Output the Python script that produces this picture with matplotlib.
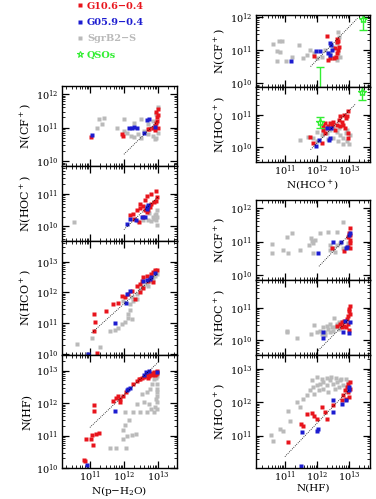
import matplotlib
matplotlib.use("Agg")
import matplotlib.pyplot as plt
from matplotlib.lines import Line2D
from matplotlib.ticker import LogLocator
import numpy as np

plt.rcParams["font.family"] = ["DejaVu Serif"]
plt.rcParams["mathtext.fontset"] = "dejavuserif"

RED = "#e8141c"
BLUE = "#1c1cd0"
GRAY = "#bababa"
GREEN = "#33ee33"

# All values are log10 column densities: (x, y).
# --- left column: versus N(p-H2O)
H2O_CF_RED = [(11.02, 10.73), (11.95, 10.82), (11.97, 10.76), (12.70, 10.95), (12.85, 10.98),
              (12.90, 11.05), (12.95, 11.12), (12.97, 11.20), (12.98, 11.30), (13.00, 11.38),
              (12.95, 11.45), (13.00, 11.55), (12.90, 10.92), (12.75, 10.97), (13.00, 11.00)]
H2O_CF_BLUE = [(11.07, 10.77), (12.15, 10.98), (12.23, 11.00), (12.30, 11.01), (12.37, 11.00),
               (12.60, 10.85), (12.67, 11.23), (12.73, 11.25), (12.92, 11.02)]
H2O_CF_GRAY = [(11.20, 11.00), (11.28, 11.25), (11.40, 11.27), (11.35, 11.10), (11.80, 11.00),
               (12.00, 11.25), (12.30, 11.12), (12.50, 11.25), (12.10, 10.85), (12.20, 10.75),
               (12.30, 10.72), (12.50, 10.70), (12.70, 10.80), (12.85, 10.75), (12.95, 10.70),
               (13.00, 10.85), (13.00, 11.60), (12.95, 11.40), (12.70, 11.10), (12.80, 11.00),
               (12.60, 10.90), (12.40, 10.80), (12.90, 10.65), (12.00, 10.90), (12.85, 11.20)]

H2O_HOC_RED = [(12.27, 10.39), (12.39, 10.51), (12.47, 10.57), (12.55, 10.61), (12.62, 10.49),
               (12.67, 10.44), (12.72, 10.51), (12.76, 10.59), (12.81, 10.69), (12.88, 10.74),
               (12.94, 10.79), (12.96, 10.89), (12.62, 10.80), (12.69, 10.92), (12.81, 10.98),
               (12.94, 11.08), (12.47, 10.69), (12.29, 10.23), (12.45, 10.13), (12.57, 10.29),
               (12.18, 10.34)]
H2O_HOC_BLUE = [(12.10, 10.08), (12.18, 10.23), (12.35, 10.18), (12.52, 10.29), (12.62, 10.30),
                (12.69, 10.59), (12.72, 10.64), (12.67, 10.54)]
H2O_HOC_GRAY = [(10.54, 10.13), (12.94, 10.18), (12.96, 10.29), (12.94, 10.39), (12.96, 10.49),
                (12.88, 10.23), (12.81, 10.16), (12.71, 10.18), (12.57, 10.18), (12.42, 10.16),
                (12.91, 10.34), (12.98, 10.05), (12.85, 10.30), (12.75, 10.40)]

H2O_HCO_RED = [(11.12, 11.31), (11.15, 11.05), (11.12, 10.74), (11.20, 10.03), (11.47, 11.40),
               (11.69, 11.62), (11.83, 11.67), (11.93, 11.89), (12.13, 11.95), (12.23, 12.05),
               (12.32, 11.78), (12.37, 12.22), (12.47, 12.27), (12.52, 12.38), (12.57, 12.49),
               (12.67, 12.55), (12.72, 12.38), (12.76, 12.44), (12.81, 12.60), (12.86, 12.66),
               (12.91, 12.73), (12.96, 12.73), (12.86, 12.33), (12.57, 12.16), (12.47, 12.00),
               (12.03, 11.86)]
H2O_HCO_BLUE = [(10.95, 9.99), (11.74, 11.02), (12.06, 11.67), (12.10, 11.95), (12.18, 12.05),
                (12.57, 12.38), (12.67, 12.40), (12.76, 12.44), (12.81, 12.49), (12.91, 12.62)]
H2O_HCO_GRAY = [(10.61, 10.33), (10.92, 10.00), (11.05, 10.50), (11.29, 10.22), (11.59, 10.74),
                (11.74, 10.77), (11.83, 10.85), (11.93, 10.98), (12.03, 11.05), (12.13, 11.16),
                (12.23, 11.13), (12.13, 11.29), (12.18, 11.42), (11.98, 11.73), (12.18, 11.62),
                (12.27, 11.73), (12.37, 11.95), (12.47, 12.11), (12.57, 12.22), (12.67, 12.27),
                (12.76, 12.38), (12.86, 12.44), (12.91, 12.55), (12.96, 12.60), (12.81, 12.49),
                (12.72, 12.22), (12.91, 12.71), (12.23, 11.84), (12.37, 11.78)]

H2O_HF_RED = [(10.86, 10.21), (10.83, 10.24), (10.90, 10.88), (11.03, 10.88), (11.06, 11.01),
              (11.08, 10.71), (11.18, 11.05), (11.28, 11.08), (11.11, 11.93), (11.13, 11.75),
              (11.68, 12.05), (11.78, 12.15), (11.83, 12.23), (11.88, 12.13), (11.98, 12.21),
              (12.06, 12.33), (11.88, 12.03), (12.28, 12.58), (12.38, 12.68), (12.48, 12.75),
              (12.53, 12.78), (12.63, 12.83), (12.68, 12.88), (12.73, 12.83), (12.78, 12.91),
              (12.83, 12.93), (12.88, 12.95), (12.93, 12.91), (12.98, 12.93), (12.98, 12.98),
              (12.83, 12.85), (12.58, 12.81), (12.43, 12.73), (12.70, 12.78), (12.90, 12.85)]
H2O_HF_BLUE = [(10.91, 10.08), (11.75, 11.75), (12.08, 12.41), (12.13, 12.43), (12.18, 12.45),
               (12.58, 12.85), (12.66, 12.95), (12.73, 12.98), (12.96, 12.95)]
H2O_HF_GRAY = [(11.58, 10.63), (11.78, 10.63), (12.06, 10.61), (11.98, 11.18), (12.08, 10.98),
               (12.23, 11.01), (12.36, 11.05), (12.16, 11.48), (12.28, 11.73), (12.38, 11.98),
               (12.03, 11.73), (12.53, 12.28), (12.68, 12.33), (12.78, 12.43), (12.83, 12.58),
               (12.88, 12.73), (12.93, 12.78), (12.96, 12.33), (12.98, 12.03), (12.90, 11.88),
               (12.80, 11.83), (12.98, 12.58), (12.98, 12.43), (12.98, 12.23), (12.98, 11.83),
               (12.93, 12.13), (12.73, 11.98), (12.58, 12.03), (12.48, 11.73), (12.68, 11.73),
               (12.88, 11.73), (11.98, 10.88), (12.03, 11.33), (12.98, 12.83), (12.93, 12.93)]

# --- right column, top: versus N(HCO+)
HCO_CF_RED = [(11.91, 10.82), (12.32, 11.42), (12.35, 10.70), (12.41, 10.75), (12.56, 11.05),
              (12.61, 11.25), (12.63, 11.32), (12.66, 11.28), (12.61, 10.90), (12.66, 11.00),
              (12.69, 11.10), (12.59, 10.79), (12.53, 10.75)]
HCO_CF_BLUE = [(11.19, 10.67), (11.97, 10.98), (12.09, 10.98), (12.41, 11.22), (12.43, 11.15),
               (12.35, 10.90), (12.41, 10.85), (12.46, 11.00)]
HCO_CF_GRAY = [(10.64, 11.18), (10.82, 11.28), (10.90, 11.28), (10.76, 10.98), (10.86, 10.93),
               (10.74, 10.68), (11.03, 10.67), (11.21, 10.80), (11.45, 11.15), (11.57, 10.75),
               (11.68, 10.85), (11.78, 11.00), (11.91, 10.90), (11.99, 10.75), (12.15, 10.80),
               (12.25, 11.00), (12.41, 10.90), (12.51, 11.10), (12.61, 11.20), (12.64, 11.56),
               (12.67, 11.40), (12.56, 10.80), (12.61, 10.70), (12.71, 10.80), (12.66, 10.90),
               (12.46, 10.75)]
# QSOs: (x, y, y_low, y_high)
HCO_CF_QSO = [(12.09, 9.30, 9.30, 10.49), (13.43, 11.93, 11.60, 12.09)]

HCO_HOC_RED = [(11.78, 10.33), (11.89, 10.12), (12.15, 10.12), (12.20, 10.54), (12.25, 10.44),
               (12.30, 10.59), (12.35, 10.64), (12.46, 10.69), (12.51, 10.79), (12.56, 10.54),
               (12.61, 10.69), (12.67, 10.85), (12.72, 10.95), (12.77, 10.79), (12.82, 10.69),
               (12.88, 10.59), (12.93, 10.95), (12.98, 11.10), (12.90, 10.90), (12.84, 11.00),
               (12.95, 10.43), (12.98, 10.28), (12.25, 10.74), (12.41, 10.74), (12.20, 10.64),
               (12.72, 10.64)]
HCO_HOC_BLUE = [(11.96, 10.05), (12.07, 10.23), (12.30, 10.59), (12.41, 10.28), (12.38, 10.23),
                (12.42, 10.59)]
HCO_HOC_GRAY = [(11.47, 10.23), (11.73, 10.33), (11.89, 10.28), (11.99, 10.18), (12.15, 10.38),
                (12.20, 10.48), (12.30, 10.43), (12.41, 10.54), (12.51, 10.59), (12.61, 10.48),
                (12.72, 10.38), (12.82, 10.28), (12.93, 10.18), (13.03, 10.38), (12.93, 10.54),
                (11.99, 10.48), (12.50, 10.30), (12.65, 10.20), (12.80, 10.10), (12.90, 10.45),
                (12.70, 10.60), (12.35, 10.25), (13.00, 10.10)]
HCO_HOC_QSO = [(12.09, 10.79, 10.58, 10.94), (13.40, 11.70, 11.45, 12.00)]

# --- right column, bottom: versus N(HF)
HF_CF_RED = [(12.46, 10.80), (12.84, 10.72), (12.95, 10.85), (13.03, 11.40), (13.01, 11.25),
             (13.03, 11.05), (13.03, 10.95), (13.03, 10.82), (12.98, 11.12), (13.03, 11.18)]
HF_CF_BLUE = [(12.02, 10.65), (12.49, 10.98), (12.74, 11.00), (12.93, 10.85), (13.03, 11.25),
              (13.01, 11.18), (12.91, 10.81)]
HF_CF_GRAY = [(10.61, 10.92), (10.61, 10.65), (10.95, 10.75), (11.07, 11.12), (11.21, 11.25),
              (11.10, 10.65), (11.47, 10.75), (11.80, 11.10), (11.83, 11.02), (11.89, 10.95),
              (11.94, 11.05), (11.86, 10.65), (12.09, 11.25), (12.35, 11.28), (12.61, 11.28),
              (12.82, 11.57), (12.41, 10.90), (12.51, 10.80), (12.61, 10.90), (12.72, 10.95),
              (12.39, 10.75), (12.56, 10.70), (12.82, 10.80), (12.93, 10.85), (12.98, 10.95),
              (11.75, 10.90)]

HF_HOC_RED = [(12.61, 10.45), (12.72, 10.50), (12.77, 10.55), (12.84, 10.60), (12.93, 10.65),
              (12.98, 10.75), (13.01, 10.90), (13.03, 11.05), (13.01, 10.95), (13.03, 10.80),
              (12.95, 10.50), (12.91, 10.40), (13.01, 10.32), (12.84, 10.45), (12.77, 10.40)]
HF_HOC_BLUE = [(12.20, 10.25), (12.20, 10.08), (12.82, 10.25), (13.01, 10.22), (13.03, 10.55),
               (12.88, 10.60)]
HF_HOC_GRAY = [(11.05, 10.25), (11.07, 10.28), (11.39, 10.08), (11.80, 10.20), (11.91, 10.47),
               (12.53, 10.70), (12.09, 10.30), (12.20, 10.40), (12.25, 10.25), (12.30, 10.45),
               (12.35, 10.35), (12.41, 10.50), (12.46, 10.40), (12.51, 10.30), (12.56, 10.40),
               (12.61, 10.50), (12.67, 10.55), (12.72, 10.45), (12.77, 10.55), (12.67, 10.35),
               (12.41, 10.25), (12.25, 10.15), (12.15, 10.20), (12.00, 10.25)]

HF_HCO_RED = [(11.10, 10.80), (11.49, 11.35), (11.57, 11.30), (11.70, 11.65), (11.84, 11.67),
              (11.91, 11.60), (11.99, 11.50), (12.15, 11.85), (12.25, 11.70), (12.30, 11.50),
              (12.51, 11.90), (12.77, 12.05), (12.82, 12.20), (12.88, 12.35), (12.93, 12.45),
              (12.98, 12.30), (13.01, 12.15), (13.03, 12.40), (12.95, 12.55), (13.03, 12.60),
              (12.90, 12.10)]
HF_HCO_BLUE = [(11.52, 11.10), (11.99, 11.15), (12.04, 11.20), (12.49, 12.07), (12.49, 11.70),
               (12.77, 11.95), (12.91, 12.05), (13.01, 12.35), (13.01, 12.45), (11.50, 10.08)]
HF_HCO_GRAY = [(10.58, 11.03), (10.64, 10.85), (10.86, 11.20), (10.95, 11.15), (11.10, 11.73),
               (11.16, 11.45), (11.39, 12.00), (11.47, 11.85), (11.57, 12.10), (11.68, 12.20),
               (11.78, 12.35), (11.89, 12.45), (11.99, 12.50), (12.09, 12.55), (12.20, 12.60),
               (12.30, 12.50), (12.41, 12.65), (12.51, 12.55), (12.61, 12.60), (12.72, 12.65),
               (12.82, 12.50), (12.93, 12.45), (11.85, 12.65), (12.00, 12.75), (12.15, 12.70),
               (12.30, 12.72), (12.45, 12.75), (12.60, 12.72), (12.75, 12.70), (12.90, 12.70),
               (12.95, 12.60), (12.20, 12.40), (12.35, 12.30), (12.55, 12.40), (12.70, 12.45),
               (11.90, 12.25), (12.05, 12.35)]

# dotted reference lines: (log x start, log x end, offset in dex), slope 1
LINE_H2O_CF = (12.0, 13.0, -1.80)
LINE_H2O_HOC = (12.0, 13.0, -2.10)
LINE_H2O_HCO = (11.05, 13.0, -0.37)
LINE_H2O_HF = (11.0, 13.0, 0.25)
LINE_HCO_CF = (11.8, 13.26, -1.30)
LINE_HCO_HOC = (11.8, 13.2, -1.87)
LINE_HF_CF = (12.06, 13.0, -1.80)
LINE_HF_HOC = (12.04, 13.0, -2.35)
LINE_HF_HCO = (11.0, 13.0, -0.63)

W, H = 376, 499
fig = plt.figure(figsize=(W / 100, H / 100), dpi=100)


def make_axes(left_px, width_px, top_px, bottom_px):
    return fig.add_axes([left_px / W, 1 - bottom_px / H, width_px / W, (bottom_px - top_px) / H])


def draw_panel(ax, gray, red, blue, line, xlim, ylim, ylabel, show_x=False, xlabel=None):
    for pts, color, size in ((gray, GRAY, 2.5), (red, RED, 2.8), (blue, BLUE, 2.8)):
        pts = np.array(pts)
        ax.plot(10 ** pts[:, 0], 10 ** pts[:, 1], "s", color=color, ms=size, mec="none")
    x0, x1, off = line
    xs = np.array([x0, x1])
    ax.plot(10 ** xs, 10 ** (xs + off), ls=(0, (1, 1.5)), color="black", lw=0.6)

    ax.set_xscale("log")
    ax.set_yscale("log")
    ax.set_xlim(10 ** xlim[0], 10 ** xlim[1])
    ax.set_ylim(10 ** ylim[0], 10 ** ylim[1])
    for axis in (ax.xaxis, ax.yaxis):
        axis.set_major_locator(LogLocator(base=10, numticks=20))
        axis.set_minor_locator(LogLocator(base=10, subs=np.arange(2, 10), numticks=20))
    ax.tick_params(which="both", direction="in", top=True, right=True, labelsize=7)
    ax.tick_params(axis="y", pad=2.5)
    ax.tick_params(axis="x", pad=1.0)
    ax.tick_params(which="major", length=5, width=0.9)
    ax.tick_params(which="minor", length=2.5, width=0.6)
    for sp in ax.spines.values():
        sp.set_linewidth(1.0)
    ax.set_ylabel(ylabel, fontsize=8, labelpad=2)
    if show_x:
        ax.set_xlabel(xlabel, fontsize=7.5, labelpad=0)
    else:
        ax.tick_params(labelbottom=False)


def draw_qso(ax, qso):
    for x, y, lo, hi in qso:
        ax.errorbar(10 ** x, 10 ** y, yerr=[[10 ** y - 10 ** lo], [10 ** hi - 10 ** y]],
                    fmt="*", color=GREEN, ms=6, mfc="none", mew=1.0, elinewidth=1.0,
                    capsize=3, capthick=1.0)


XL = (10.18, 13.56)
XR = (10.10, 13.65)
Y_CF = (9.85, 12.24)
Y_HOC = (9.55, 11.85)

# left column
ax = make_axes(62, 115, 86, 166)
draw_panel(ax, H2O_CF_GRAY, H2O_CF_RED, H2O_CF_BLUE, LINE_H2O_CF, XL, Y_CF, r"N(CF$^+$)")
ax = make_axes(62, 115, 166, 241)
draw_panel(ax, H2O_HOC_GRAY, H2O_HOC_RED, H2O_HOC_BLUE, LINE_H2O_HOC, XL, Y_HOC, r"N(HOC$^+$)")
ax = make_axes(62, 115, 241, 355)
draw_panel(ax, H2O_HCO_GRAY, H2O_HCO_RED, H2O_HCO_BLUE, LINE_H2O_HCO, XL, (9.96, 13.68), r"N(HCO$^+$)")
ax = make_axes(62, 115, 355, 468)
draw_panel(ax, H2O_HF_GRAY, H2O_HF_RED, H2O_HF_BLUE, LINE_H2O_HF, XL, (10.0, 13.48), "N(HF)",
           show_x=True, xlabel=r"N(p$-$H$_2$O)")

# right column, top pair
ax = make_axes(256, 114, 15, 87)
draw_panel(ax, HCO_CF_GRAY, HCO_CF_RED, HCO_CF_BLUE, LINE_HCO_CF, XR, (9.88, 12.06), r"N(CF$^+$)")
draw_qso(ax, HCO_CF_QSO)
ax = make_axes(256, 114, 87, 162)
draw_panel(ax, HCO_HOC_GRAY, HCO_HOC_RED, HCO_HOC_BLUE, LINE_HCO_HOC, XR, Y_HOC, r"N(HOC$^+$)",
           show_x=True, xlabel=r"N(HCO$^+$)")
draw_qso(ax, HCO_HOC_QSO)

# right column, bottom triple
ax = make_axes(256, 114, 200, 280)
draw_panel(ax, HF_CF_GRAY, HF_CF_RED, HF_CF_BLUE, LINE_HF_CF, XR, Y_CF, r"N(CF$^+$)")
ax = make_axes(256, 114, 280, 355)
draw_panel(ax, HF_HOC_GRAY, HF_HOC_RED, HF_HOC_BLUE, LINE_HF_HOC, XR, Y_HOC, r"N(HOC$^+$)")
ax = make_axes(256, 114, 355, 468)
draw_panel(ax, HF_HCO_GRAY, HF_HCO_RED, HF_HCO_BLUE, LINE_HF_HCO, XR, (10.03, 13.41), r"N(HCO$^+$)",
           show_x=True, xlabel="N(HF)")

handles = [
    Line2D([], [], marker="s", ls="none", color=RED, ms=2.4, mec="none"),
    Line2D([], [], marker="s", ls="none", color=BLUE, ms=2.4, mec="none"),
    Line2D([], [], marker="s", ls="none", color=GRAY, ms=2.4, mec="none"),
    Line2D([], [], marker="*", ls="none", color=GREEN, ms=4.5, mfc="none", mew=0.8),
]
labels = ["G10.6\u22120.4", "G05.9\u22120.4", "SgrB2\u2212S", "QSOs"]
fig.legend(handles, labels, loc="upper left", bbox_to_anchor=(72 / W, 1.008), frameon=False,
           labelcolor=[RED, BLUE, GRAY, GREEN], prop={"size": 7, "weight": "bold"},
           handlelength=0.5, handletextpad=0.45, labelspacing=0.75, borderpad=0.1)

fig.savefig("out.png", dpi=100)
